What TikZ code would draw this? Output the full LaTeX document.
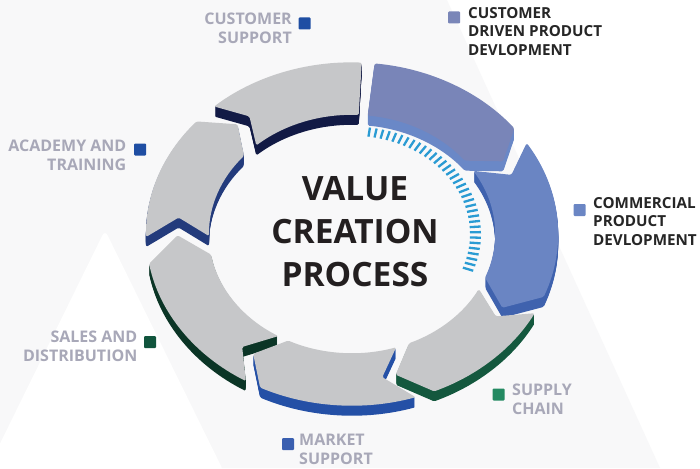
\documentclass[tikz,border=0pt]{standalone}
\usepackage{fontspec}
\setmainfont{Open Sans}
\definecolor{bggray}{HTML}{F8F8F9}
\definecolor{segtop}{HTML}{C6C7C9}
\definecolor{navyA}{HTML}{121A45}
\definecolor{navyB}{HTML}{233B7C}
\definecolor{greenA}{HTML}{0B3526}
\definecolor{blueM}{HTML}{2450A6}
\definecolor{greenB}{HTML}{14583E}
\definecolor{comtop}{HTML}{6A85C3}
\definecolor{comside}{HTML}{3F62AE}
\definecolor{cdtop}{HTML}{7985B8}
\definecolor{cdside}{HTML}{6A88C7}
\definecolor{tickblue}{HTML}{2A9BD3}
\definecolor{lblgray}{HTML}{A8A8B8}
\definecolor{lbldark}{HTML}{262626}
\definecolor{titledark}{HTML}{231F20}
\definecolor{sqnavy}{HTML}{1F4EA3}
\definecolor{sqcd}{HTML}{7A86B8}
\definecolor{sqcom}{HTML}{6B86C4}
\definecolor{sqsup}{HTML}{248A62}
\definecolor{sqmkt}{HTML}{3A5FB0}
\definecolor{sqsal}{HTML}{11553D}
\newcommand\ringO{206}
\newcommand\ringI{143}
\newcommand\ringM{174.5}
% #1 tail angle, #2 notch depth, #3 head angle, #4 head depth, #5 side colour, #6 top colour
\newcommand\ringseg[6]{%
  \foreach \k in {1,...,10}{%
    \fill[#5, yshift=-\k pt, rounded corners=1.5pt] (#1:\ringO) arc[start angle=#1, end angle=#3, radius=\ringO] -- ({#3-#4}:\ringM) -- (#3:\ringI) arc[start angle=#3, end angle=#1, radius=\ringI] -- ({#1-#2}:\ringM) -- cycle;}
  \fill[#6, rounded corners=1.5pt] (#1:\ringO) arc[start angle=#1, end angle=#3, radius=\ringO] -- ({#3-#4}:\ringM) -- (#3:\ringI) arc[start angle=#3, end angle=#1, radius=\ringI] -- ({#1-#2}:\ringM) -- cycle;}
\tikzset{
  sqmark/.style={minimum size=12pt, inner sep=0pt, rounded corners=1pt},
  glbl/.style={inner sep=0pt, text=lblgray, font=\bfseries\fontsize{16}{18.5}\selectfont},
  dlbl/.style={inner sep=0pt, text=lbldark, font=\bfseries\fontsize{15.2}{18.5}\selectfont},
  tickmark/.style={draw=tickblue, line width=2.3pt}
}
\begin{document}
\begin{tikzpicture}[x=1pt, y=-1pt]
\useasboundingbox (0,0) rectangle (700,468);
% background
\fill[white] (0,0) rectangle (700,468);
\fill[bggray] (0,0) -- (447,0) -- (660,468) -- (0,468) -- cycle;
\fill[white, rounded corners=6pt] (105,230) -- (-14,472) -- (224,472) -- cycle;
% ring
\begin{scope}[shift={(352,234)}, x=1pt, y=0.833pt]
  \ringseg{132}{6}{87.3}{0}{navyA}{segtop}
  \ringseg{83.7}{0}{38}{8}{cdside}{cdtop}
  \ringseg{181}{7.5}{139}{8}{navyB}{segtop}
  \ringseg{32}{8}{-21.5}{9}{comside}{comtop}
  \ringseg{239}{8}{190}{9.5}{greenA}{segtop}
  \ringseg{-27.5}{7}{-66.5}{9}{greenB}{segtop}
  \ringseg{-72}{8}{-116.5}{8}{blueM}{segtop}
  \foreach \a in {82,79,...,-20}{\draw[tickmark] (\a:118) -- (\a:129);}
\end{scope}
% title
\node[font=\bfseries\fontsize{33.5}{43}\selectfont, align=center, text=titledark, inner sep=0pt] (title) at (355,232) {VALUE\\CREATION\\PROCESS};
% markers
\node[sqmark, fill=sqnavy] (mCS) at (304.5,23.5) {};
\node[sqmark, fill=sqnavy] (mAT) at (140,149.5) {};
\node[sqmark, fill=sqsal] (mSD) at (150,342) {};
\node[sqmark, fill=sqmkt] (mMS) at (288,444) {};
\node[sqmark, fill=sqsup] (mSC) at (498.5,394.5) {};
\node[sqmark, fill=sqcom] (mCP) at (579.5,210) {};
\node[sqmark, fill=sqcd] (mCD) at (454,17.5) {};
% labels
\node[glbl, align=right, anchor=north east] (lCS) at (292,13) {CUSTOMER\\SUPPORT};
\node[glbl, align=right, anchor=north east] (lAT) at (126.5,140) {ACADEMY AND\\TRAINING};
\node[glbl, align=right, anchor=north east] (lSD) at (137.5,331) {SALES AND\\DISTRIBUTION};
\node[glbl, align=left, anchor=north west] (lMS) at (299,434) {MARKET\\SUPPORT};
\node[glbl, align=left, anchor=north west] (lSC) at (512,384) {SUPPLY\\CHAIN};
\node[dlbl, align=left, anchor=north west] (lCP) at (593,197) {COMMERCIAL\\PRODUCT\\DEVLOPMENT};
\node[dlbl, align=left, anchor=north west] (lCD) at (468,7) {CUSTOMER\\DRIVEN PRODUCT\\DEVLOPMENT};
\end{tikzpicture}
\end{document}
